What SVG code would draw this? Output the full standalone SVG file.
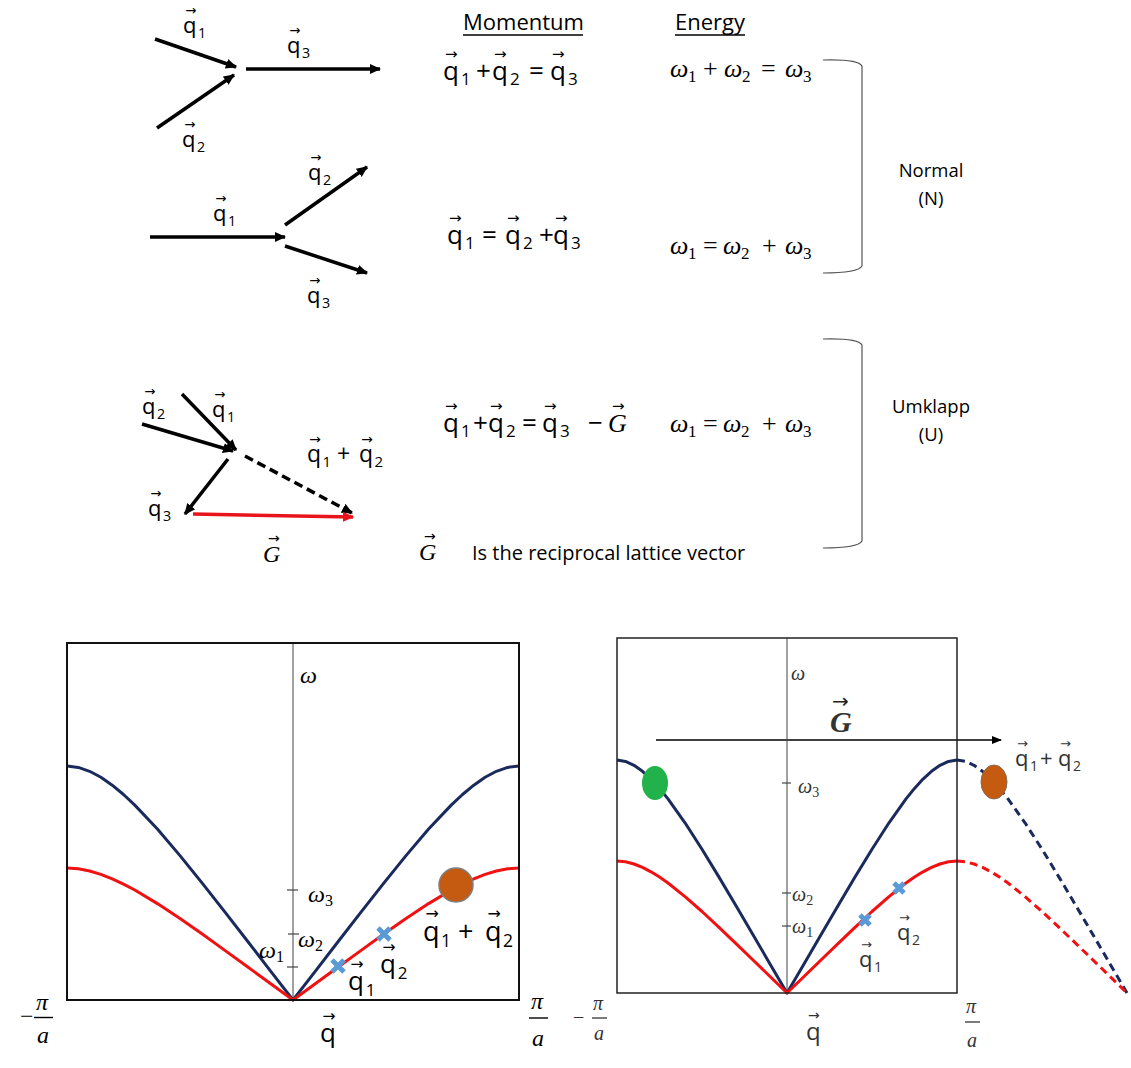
<svg xmlns="http://www.w3.org/2000/svg" width="1131" height="1068" viewBox="0 0 1131 1068">
<style>
.sans{font-family:"Open Sans","Liberation Sans",sans-serif;fill:#000}
.ser{font-family:"Liberation Serif","DejaVu Serif",serif;fill:#000}
.it{font-style:italic}
.acc{font-family:"DejaVu Sans",sans-serif;font-style:normal;font-weight:normal}
.ln{stroke-width:3.5;fill:none}
.k{stroke:#000}
.br{stroke:#555;stroke-width:1.2;fill:none}
.blue{stroke:#1B2A5C;stroke-width:3;fill:none;stroke-linejoin:round}
.red{stroke:#F01212;stroke-width:3;fill:none;stroke-linejoin:round}
.box{stroke:#111;stroke-width:2;fill:none}
.ax{stroke:#444;stroke-width:1;fill:none}
.tk{stroke:#444;stroke-width:1.2}
.x{stroke:#5B9BD5;stroke-width:5;fill:none}
.gr{fill:#333}
</style>
<defs>
<marker id="ah" viewBox="0 0 10 10" refX="9" refY="5" markerWidth="3.2" markerHeight="3.2" orient="auto" markerUnits="strokeWidth"><path d="M0,0.5 L10,5 L0,9.5 z" fill="#000"/></marker>
<marker id="ahr" viewBox="0 0 10 10" refX="9" refY="5" markerWidth="3.2" markerHeight="3.2" orient="auto" markerUnits="strokeWidth"><path d="M0,0.5 L10,5 L0,9.5 z" fill="#E8141B"/></marker>
<marker id="aht" viewBox="0 0 10 10" refX="9" refY="5" markerWidth="12" markerHeight="10" orient="auto" markerUnits="userSpaceOnUse"><path d="M0,1 L10,5 L0,9 z" fill="#000"/></marker>
</defs>

<g id="connectors">
<line class="ln k" x1="155" y1="39" x2="236" y2="67" marker-end="url(#ah)"/>
<line class="ln k" x1="157" y1="128" x2="234" y2="75" marker-end="url(#ah)"/>
<line class="ln k" x1="246" y1="69" x2="380" y2="69" marker-end="url(#ah)"/>
<line class="ln k" x1="150" y1="237" x2="285" y2="237" marker-end="url(#ah)"/>
<line class="ln k" x1="285" y1="225" x2="367" y2="167" marker-end="url(#ah)"/>
<line class="ln k" x1="285" y1="246" x2="367" y2="273" marker-end="url(#ah)"/>
<line class="ln k" x1="142" y1="424" x2="233" y2="451" marker-end="url(#ah)"/>
<line class="ln k" x1="182" y1="394" x2="236" y2="450" marker-end="url(#ah)"/>
<line class="ln k" x1="228" y1="459" x2="185" y2="514" marker-end="url(#ah)"/>
<line class="ln k" x1="245" y1="456" x2="352" y2="513" stroke-width="3" stroke-dasharray="9,5" marker-end="url(#ah)"/>
<line class="ln" x1="193" y1="514" x2="353" y2="517" style="stroke:#E8141B" marker-end="url(#ahr)"/>
<line x1="656" y1="740" x2="1001" y2="740" stroke="#000" stroke-width="1.4" marker-end="url(#aht)"/>
</g>

<g id="diagram-labels" class="sans">
<text x="183" y="33" font-size="22">q<tspan class="acc" x="185.2" y="15.4" font-size="13.2">→</tspan><tspan x="198" y="37.8" font-size="14.3">1</tspan></text>
<text x="182" y="147" font-size="22">q<tspan class="acc" x="184.2" y="129.4" font-size="13.2">→</tspan><tspan x="197" y="151.8" font-size="14.3">2</tspan></text>
<text x="287" y="53" font-size="22">q<tspan class="acc" x="289.2" y="35.4" font-size="13.2">→</tspan><tspan x="302" y="57.8" font-size="14.3">3</tspan></text>

<text x="308" y="180" font-size="22">q<tspan class="acc" x="310.2" y="162.4" font-size="13.2">→</tspan><tspan x="323" y="184.8" font-size="14.3">2</tspan></text>
<text x="213" y="221" font-size="22">q<tspan class="acc" x="215.2" y="203.4" font-size="13.2">→</tspan><tspan x="228" y="225.8" font-size="14.3">1</tspan></text>
<text x="307" y="303" font-size="22">q<tspan class="acc" x="309.2" y="285.4" font-size="13.2">→</tspan><tspan x="322" y="307.8" font-size="14.3">3</tspan></text>

<text x="142" y="414" font-size="22">q<tspan class="acc" x="144.2" y="396.4" font-size="13.2">→</tspan><tspan x="157" y="418.8" font-size="14.3">2</tspan></text>
<text x="212" y="417" font-size="22">q<tspan class="acc" x="214.2" y="399.4" font-size="13.2">→</tspan><tspan x="227" y="421.8" font-size="14.3">1</tspan></text>
<text x="148" y="516" font-size="22">q<tspan class="acc" x="150.2" y="498.4" font-size="13.2">→</tspan><tspan x="163" y="520.8" font-size="14.3">3</tspan></text>
<text x="307" y="462" font-size="23">q<tspan class="acc" x="309.3" y="443.6" font-size="13.8">→</tspan><tspan x="322.6" y="467" font-size="15">1</tspan><tspan x="337" y="462">+</tspan><tspan x="359">q</tspan><tspan class="acc" x="361.3" y="443.6" font-size="13.8">→</tspan><tspan x="374.6" y="467" font-size="15">2</tspan></text>
<text class="ser it" x="263" y="562" font-size="24">G<tspan class="acc" x="268" y="543" font-size="14">→</tspan></text>
</g>

<g id="equations" class="sans">
<text x="463" y="30" font-size="22">Momentum</text>
<line x1="463" y1="35" x2="583" y2="35" stroke="#000" stroke-width="1.3"/>
<text x="675" y="30" font-size="22">Energy</text>
<line x1="675" y1="35" x2="745" y2="35" stroke="#000" stroke-width="1.3"/>

<text y="80" font-size="26"><tspan x="443">q</tspan><tspan class="acc" x="445" y="59" font-size="15">→</tspan><tspan x="461" y="85" font-size="17">1</tspan><tspan x="476" y="80">+</tspan><tspan x="492">q</tspan><tspan class="acc" x="494" y="59" font-size="15">→</tspan><tspan x="510" y="85" font-size="17">2</tspan><tspan x="529" y="80">=</tspan><tspan x="550">q</tspan><tspan class="acc" x="552" y="59" font-size="15">→</tspan><tspan x="568" y="85" font-size="17">3</tspan></text>

<text y="244" font-size="26"><tspan x="447">q</tspan><tspan class="acc" x="449" y="223" font-size="15">→</tspan><tspan x="465" y="249" font-size="17">1</tspan><tspan x="482" y="244">=</tspan><tspan x="505">q</tspan><tspan class="acc" x="507" y="223" font-size="15">→</tspan><tspan x="523" y="249" font-size="17">2</tspan><tspan x="539" y="244">+</tspan><tspan x="553">q</tspan><tspan class="acc" x="555" y="223" font-size="15">→</tspan><tspan x="571" y="249" font-size="17">3</tspan></text>

<text y="432" font-size="26"><tspan x="443">q</tspan><tspan class="acc" x="445" y="411" font-size="15">→</tspan><tspan x="461" y="437" font-size="17">1</tspan><tspan x="473" y="432">+</tspan><tspan x="488">q</tspan><tspan class="acc" x="490" y="411" font-size="15">→</tspan><tspan x="506" y="437" font-size="17">2</tspan><tspan x="522" y="432">=</tspan><tspan x="542">q</tspan><tspan class="acc" x="544" y="411" font-size="15">→</tspan><tspan x="560" y="437" font-size="17">3</tspan><tspan x="588" y="432">−</tspan><tspan class="ser it" x="608">G</tspan><tspan class="acc" x="612" y="411" font-size="15">→</tspan></text>

<g class="ser">
<text y="77" font-size="26"><tspan class="it" x="670">ω</tspan><tspan x="688" y="82" font-size="17">1</tspan><tspan x="703" y="77">+</tspan><tspan class="it" x="724">ω</tspan><tspan x="742" y="82" font-size="17">2</tspan><tspan x="761" y="77">=</tspan><tspan class="it" x="785">ω</tspan><tspan x="803" y="82" font-size="17">3</tspan></text>
<text y="254" font-size="26"><tspan class="it" x="670">ω</tspan><tspan x="688" y="259" font-size="17">1</tspan><tspan x="703" y="254">=</tspan><tspan class="it" x="723">ω</tspan><tspan x="741" y="259" font-size="17">2</tspan><tspan x="762" y="254">+</tspan><tspan class="it" x="785">ω</tspan><tspan x="803" y="259" font-size="17">3</tspan></text>
<text y="432" font-size="26"><tspan class="it" x="670">ω</tspan><tspan x="688" y="437" font-size="17">1</tspan><tspan x="703" y="432">=</tspan><tspan class="it" x="723">ω</tspan><tspan x="741" y="437" font-size="17">2</tspan><tspan x="762" y="432">+</tspan><tspan class="it" x="785">ω</tspan><tspan x="803" y="437" font-size="17">3</tspan></text>
</g>

<text class="ser it" x="419" y="560" font-size="24">G<tspan class="acc" x="424" y="541" font-size="14">→</tspan></text>
<text x="472" y="560" font-size="20">Is the reciprocal lattice vector</text>
</g>

<g id="bracket-normal">
<path class="br" d="M823,60 Q858,59 862,66 L862,266 Q858,273 823,273"/>
<text class="sans" x="931" y="177" font-size="18.5" text-anchor="middle" fill="#222">Normal</text>
<text class="sans" x="931" y="205" font-size="18.5" text-anchor="middle" fill="#222">(N)</text>
</g>
<g id="bracket-umklapp">
<path class="br" d="M823,339 Q858,338 862,345 L862,541 Q858,548 823,548"/>
<text class="sans" x="931" y="413" font-size="18.5" text-anchor="middle" fill="#222">Umklapp</text>
<text class="sans" x="931" y="441" font-size="18.5" text-anchor="middle" fill="#222">(U)</text>
</g>

<g id="plot-left">
<line class="ax" x1="293" y1="643" x2="293" y2="1000"/>
<polyline class="blue" points="67,766 78.3,767.4 89.6,771.3 100.9,777.3 112.2,785.2 123.5,794.5 134.8,805.1 157.4,829 180,855.6 202.6,883.6 225.2,912.4 247.8,941.5 270.4,970.8 293,1000 315.6,970.8 338.2,941.5 360.8,912.4 383.4,883.6 406,855.6 428.6,829 451.2,805.1 462.5,794.5 473.8,785.2 485.1,777.3 496.4,771.3 507.7,767.4 519,766"/>
<polyline class="red" points="67,868 78.3,868.8 89.6,871 100.9,874.4 112.2,878.8 123.5,884.1 134.8,890 157.4,903.6 180,918.5 202.6,934.3 225.2,950.6 247.8,967 270.4,983.5 293,1000 315.6,983.5 338.2,967 360.8,950.6 383.4,934.3 406,918.5 428.6,903.6 451.2,890 462.5,884.1 473.8,878.8 485.1,874.4 496.4,871 507.7,868.8 519,868"/>
<rect class="box" x="67" y="643" width="452" height="357"/>
<line class="tk" x1="287" y1="890" x2="298" y2="890"/>
<line class="tk" x1="288" y1="934" x2="299" y2="934"/>
<line class="tk" x1="287" y1="967" x2="298" y2="967"/>
<g class="ser">
<text class="it" x="300" y="683" font-size="24">ω</text>
<text x="308" y="902" font-size="24"><tspan class="it">ω</tspan><tspan font-size="16" y="906">3</tspan></text>
<text x="298" y="947" font-size="24"><tspan class="it">ω</tspan><tspan font-size="16" y="951">2</tspan></text>
<text x="259" y="958" font-size="24"><tspan class="it">ω</tspan><tspan font-size="16" y="962">1</tspan></text>
<text x="20" y="1024" font-size="24">−</text>
<text class="it" x="36" y="1010" font-size="24">π</text>
<line x1="34" y1="1017.5" x2="53" y2="1017.5" stroke="#000" stroke-width="1.4"/>
<text class="it" x="37" y="1043" font-size="24">a</text>
<text class="it" x="531" y="1009" font-size="24">π</text>
<line x1="529" y1="1018" x2="548" y2="1018" stroke="#000" stroke-width="1.4"/>
<text class="it" x="532" y="1046" font-size="24">a</text>
</g>
<path class="x" d="M332,960 L344,972 M332,972 L344,960"/>
<path class="x" d="M378,928 L390,940 M378,940 L390,928"/>
<circle cx="456" cy="885" r="17" fill="#C55A11" stroke="#7F7F7F" stroke-width="1.5"/>
<g class="sans">
<text x="348" y="990" font-size="26">q<tspan class="acc" x="350.6" y="969" font-size="15.6">→</tspan><tspan x="365.7" y="995.7" font-size="17">1</tspan></text>
<text x="380" y="973" font-size="26">q<tspan class="acc" x="382.6" y="952" font-size="15.6">→</tspan><tspan x="397.7" y="978.7" font-size="17">2</tspan></text>
<text x="423" y="941" font-size="27">q<tspan class="acc" x="425.6" y="919" font-size="16">→</tspan><tspan x="441" y="947" font-size="17.5">1</tspan><tspan x="458" y="941">+</tspan><tspan x="485">q</tspan><tspan class="acc" x="487.6" y="919" font-size="16">→</tspan><tspan x="503" y="947" font-size="17.5">2</tspan></text>
<text x="320" y="1042" font-size="26">q<tspan class="acc" x="322.6" y="1021" font-size="15.6">→</tspan></text>
</g>
</g>

<g id="plot-right">
<line class="ax" x1="787" y1="638" x2="787" y2="993" stroke="#888"/>
<polyline class="blue" stroke-width="2.6" points="617,760 625.5,761.4 634,765.3 642.5,771.3 651,779.1 659.5,788.4 668,798.9 685,822.8 702,849.2 719,877.1 736,905.8 753,934.8 770,963.9 787,993 804,963.9 821,934.8 838,905.8 855,877.1 872,849.2 889,822.8 906,798.9 914.5,788.4 923,779.1 931.5,771.3 940,765.3 948.5,761.4 957,760"/>
<polyline class="red" stroke-width="2.6" points="617,861 625.5,861.8 634,864 642.5,867.4 651,871.8 659.5,877.1 668,883 685,896.6 702,911.5 719,927.3 736,943.6 753,960 770,976.5 787,993 804,976.5 821,960 838,943.6 855,927.3 872,911.5 889,896.6 906,883 914.5,877.1 923,871.8 931.5,867.4 940,864 948.5,861.8 957,861"/>
<polyline class="blue" stroke-width="2.6" stroke-dasharray="8,5" points="957,760 965.5,761.4 974,765.3 982.5,771.3 991,779.1 999.5,788.4 1008,798.9 1025,822.8 1042,849.2 1059,877.1 1076,905.8 1093,934.8 1110,963.9 1127,993"/>
<polyline class="red" stroke-width="2.6" stroke-dasharray="8,5" points="957,861 965.5,861.8 974,864 982.5,867.4 991,871.8 999.5,877.1 1008,883 1025,896.6 1042,911.5 1059,927.3 1076,943.6 1093,960 1110,976.5 1127,993"/>
<rect x="617" y="638" width="340" height="355" fill="none" stroke="#222" stroke-width="1.5"/>
<line class="tk" x1="782" y1="783" x2="791" y2="783"/>
<line class="tk" x1="782" y1="893" x2="791" y2="893"/>
<line class="tk" x1="782" y1="926" x2="791" y2="926"/>
<g class="ser gr">
<text class="it gr" x="791" y="680" font-size="20">ω</text>
<text class="gr" x="798" y="793" font-size="20"><tspan class="it">ω</tspan><tspan font-size="14" y="797">3</tspan></text>
<text class="gr" x="792" y="901" font-size="20"><tspan class="it">ω</tspan><tspan font-size="14" y="905">2</tspan></text>
<text class="gr" x="792" y="933" font-size="20"><tspan class="it">ω</tspan><tspan font-size="14" y="937">1</tspan></text>
<text class="gr" x="573" y="1024" font-size="20">−</text>
<text class="it gr" x="593" y="1010" font-size="20">π</text>
<line x1="592" y1="1018" x2="607" y2="1018" stroke="#333" stroke-width="1.3"/>
<text class="it gr" x="594" y="1040" font-size="20">a</text>
<text class="it gr" x="966" y="1013" font-size="20">π</text>
<line x1="965" y1="1022" x2="980" y2="1022" stroke="#333" stroke-width="1.3"/>
<text class="it gr" x="967" y="1047" font-size="20">a</text>
<text class="gr" x="830" y="732" font-size="30" font-weight="bold" font-style="italic">G<tspan class="acc" x="832" y="708" font-size="20" fill="#222">→</tspan></text>
</g>
<ellipse cx="655" cy="783" rx="13" ry="17" fill="#22B24C"/>
<ellipse cx="994" cy="782" rx="13" ry="17" fill="#C55A11" stroke="#8a6a55" stroke-width="1"/>
<path class="x" stroke-width="4" d="M860,915 L870,925 M860,925 L870,915"/>
<path class="x" stroke-width="4" d="M894,883 L904,893 M894,893 L904,883"/>
<g class="sans">
<text class="gr" x="859" y="967" font-size="22">q<tspan class="acc" x="861" y="949" font-size="13">→</tspan><tspan x="874" y="972" font-size="14">1</tspan></text>
<text class="gr" x="897" y="940" font-size="22">q<tspan class="acc" x="899" y="922" font-size="13">→</tspan><tspan x="912" y="945" font-size="14">2</tspan></text>
<text class="gr" x="1015" y="766" font-size="22">q<tspan class="acc" x="1017" y="748" font-size="13">→</tspan><tspan x="1030" y="771" font-size="14">1</tspan><tspan x="1040" y="766">+</tspan><tspan x="1058">q</tspan><tspan class="acc" x="1060" y="748" font-size="13">→</tspan><tspan x="1073" y="771" font-size="14">2</tspan></text>
<text class="gr" x="806" y="1040" font-size="24">q<tspan class="acc" x="808" y="1020" font-size="14">→</tspan></text>
</g>
</g>
</svg>
